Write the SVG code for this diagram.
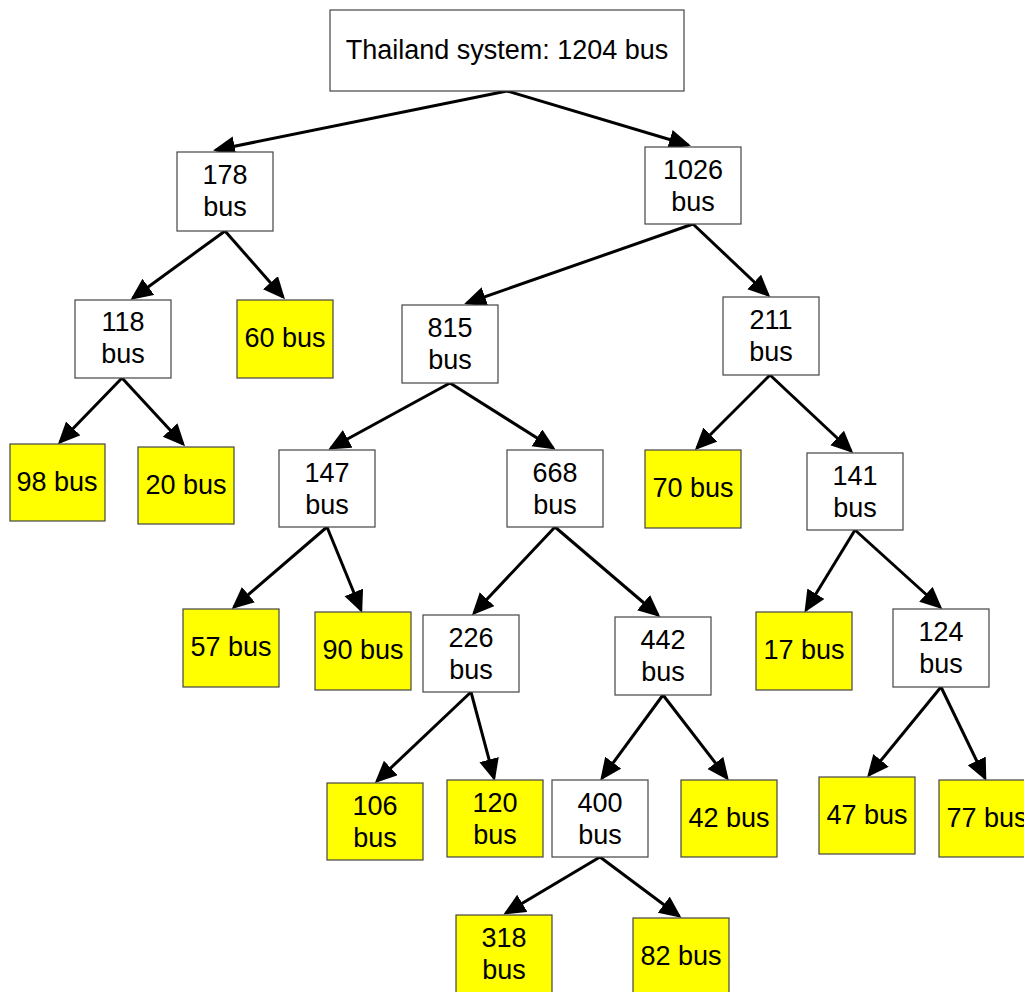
<svg xmlns="http://www.w3.org/2000/svg" width="1024" height="992" viewBox="0 0 1024 992">
  <style>
    .box { fill: #ffffff; stroke: #444444; stroke-width: 1.2; }
    .leaf { fill: #ffff00; stroke: #444444; stroke-width: 1.2; }
    .lbl { font-family: "Liberation Sans", Arial, sans-serif; font-size: 27px; fill: #000000; text-anchor: middle; }
    .edge { stroke: #000000; stroke-width: 3; fill: none; marker-end: url(#head); }
  </style>
  <defs>
    <marker id="head" markerUnits="userSpaceOnUse" markerWidth="24" markerHeight="22" refX="19" refY="10" orient="auto">
      <path d="M0,0 L22,10 L0,20 z" fill="#000000"/>
    </marker>
  </defs>
  <rect width="1024" height="992" fill="#ffffff"/>

  <g id="connectors">
    <line class="edge" x1="507" y1="91" x2="216" y2="150"/>
    <line class="edge" x1="507" y1="91" x2="688" y2="145"/>
    <line class="edge" x1="225" y1="231" x2="133" y2="298"/>
    <line class="edge" x1="225" y1="231" x2="283" y2="297"/>
    <line class="edge" x1="122" y1="378" x2="60" y2="442"/>
    <line class="edge" x1="122" y1="378" x2="183" y2="444"/>
    <line class="edge" x1="693" y1="224" x2="467" y2="303"/>
    <line class="edge" x1="693" y1="224" x2="768" y2="295"/>
    <line class="edge" x1="450" y1="383" x2="331" y2="448"/>
    <line class="edge" x1="450" y1="383" x2="553" y2="448"/>
    <line class="edge" x1="770" y1="375" x2="697" y2="448"/>
    <line class="edge" x1="770" y1="375" x2="851" y2="451"/>
    <line class="edge" x1="327" y1="527" x2="234" y2="607"/>
    <line class="edge" x1="327" y1="527" x2="361" y2="610"/>
    <line class="edge" x1="555" y1="527" x2="474" y2="613"/>
    <line class="edge" x1="555" y1="527" x2="658" y2="615"/>
    <line class="edge" x1="855" y1="530" x2="806" y2="610"/>
    <line class="edge" x1="855" y1="530" x2="940" y2="607"/>
    <line class="edge" x1="471" y1="692" x2="377" y2="781"/>
    <line class="edge" x1="471" y1="692" x2="494" y2="778"/>
    <line class="edge" x1="663" y1="695" x2="602" y2="778"/>
    <line class="edge" x1="663" y1="695" x2="727" y2="778"/>
    <line class="edge" x1="941" y1="687" x2="869" y2="775"/>
    <line class="edge" x1="941" y1="687" x2="985" y2="778"/>
    <line class="edge" x1="600" y1="857" x2="506" y2="913"/>
    <line class="edge" x1="600" y1="857" x2="679" y2="916"/>
  </g>

  <g id="n-root">
    <rect class="box" x="330" y="10" width="354" height="81"/>
    <text class="lbl" x="507" y="59">Thailand system: 1204 bus</text>
  </g>
  <g id="n-178">
    <rect class="box" x="177" y="152" width="96" height="79"/>
    <text class="lbl" x="225" y="184">178</text>
    <text class="lbl" x="225" y="216">bus</text>
  </g>
  <g id="n-1026">
    <rect class="box" x="645" y="147" width="96" height="77"/>
    <text class="lbl" x="693" y="179">1026</text>
    <text class="lbl" x="693" y="211">bus</text>
  </g>
  <g id="n-118">
    <rect class="box" x="75" y="300" width="96" height="78"/>
    <text class="lbl" x="123" y="331">118</text>
    <text class="lbl" x="123" y="363">bus</text>
  </g>
  <g id="n-60">
    <rect class="leaf" x="237" y="300" width="96" height="78"/>
    <text class="lbl" x="285" y="347">60 bus</text>
  </g>
  <g id="n-815">
    <rect class="box" x="402" y="305" width="96" height="78"/>
    <text class="lbl" x="450" y="337">815</text>
    <text class="lbl" x="450" y="369">bus</text>
  </g>
  <g id="n-211">
    <rect class="box" x="723" y="297" width="96" height="78"/>
    <text class="lbl" x="771" y="329">211</text>
    <text class="lbl" x="771" y="361">bus</text>
  </g>
  <g id="n-98">
    <rect class="leaf" x="10" y="444" width="95" height="77"/>
    <text class="lbl" x="57" y="491">98 bus</text>
  </g>
  <g id="n-20">
    <rect class="leaf" x="138" y="447" width="96" height="77"/>
    <text class="lbl" x="186" y="494">20 bus</text>
  </g>
  <g id="n-147">
    <rect class="box" x="279" y="450" width="96" height="77"/>
    <text class="lbl" x="327" y="482">147</text>
    <text class="lbl" x="327" y="514">bus</text>
  </g>
  <g id="n-668">
    <rect class="box" x="507" y="450" width="96" height="77"/>
    <text class="lbl" x="555" y="482">668</text>
    <text class="lbl" x="555" y="514">bus</text>
  </g>
  <g id="n-70">
    <rect class="leaf" x="645" y="450" width="96" height="78"/>
    <text class="lbl" x="693" y="497">70 bus</text>
  </g>
  <g id="n-141">
    <rect class="box" x="807" y="453" width="96" height="77"/>
    <text class="lbl" x="855" y="485">141</text>
    <text class="lbl" x="855" y="517">bus</text>
  </g>
  <g id="n-57">
    <rect class="leaf" x="183" y="609" width="96" height="78"/>
    <text class="lbl" x="231" y="656">57 bus</text>
  </g>
  <g id="n-90">
    <rect class="leaf" x="315" y="612" width="96" height="78"/>
    <text class="lbl" x="363" y="659">90 bus</text>
  </g>
  <g id="n-226">
    <rect class="box" x="423" y="615" width="96" height="77"/>
    <text class="lbl" x="471" y="647">226</text>
    <text class="lbl" x="471" y="679">bus</text>
  </g>
  <g id="n-442">
    <rect class="box" x="615" y="617" width="96" height="78"/>
    <text class="lbl" x="663" y="649">442</text>
    <text class="lbl" x="663" y="681">bus</text>
  </g>
  <g id="n-17">
    <rect class="leaf" x="756" y="612" width="96" height="78"/>
    <text class="lbl" x="804" y="659">17 bus</text>
  </g>
  <g id="n-124">
    <rect class="box" x="893" y="609" width="96" height="78"/>
    <text class="lbl" x="941" y="641">124</text>
    <text class="lbl" x="941" y="673">bus</text>
  </g>
  <g id="n-106">
    <rect class="leaf" x="327" y="783" width="96" height="77"/>
    <text class="lbl" x="375" y="815">106</text>
    <text class="lbl" x="375" y="847">bus</text>
  </g>
  <g id="n-120">
    <rect class="leaf" x="447" y="780" width="96" height="77"/>
    <text class="lbl" x="495" y="812">120</text>
    <text class="lbl" x="495" y="844">bus</text>
  </g>
  <g id="n-400">
    <rect class="box" x="552" y="780" width="96" height="77"/>
    <text class="lbl" x="600" y="812">400</text>
    <text class="lbl" x="600" y="844">bus</text>
  </g>
  <g id="n-42">
    <rect class="leaf" x="681" y="780" width="96" height="77"/>
    <text class="lbl" x="729" y="827">42 bus</text>
  </g>
  <g id="n-47">
    <rect class="leaf" x="819" y="777" width="96" height="77"/>
    <text class="lbl" x="867" y="824">47 bus</text>
  </g>
  <g id="n-77">
    <rect class="leaf" x="939" y="780" width="96" height="77"/>
    <text class="lbl" x="987" y="827">77 bus</text>
  </g>
  <g id="n-318">
    <rect class="leaf" x="456" y="915" width="96" height="80"/>
    <text class="lbl" x="504" y="947">318</text>
    <text class="lbl" x="504" y="979">bus</text>
  </g>
  <g id="n-82">
    <rect class="leaf" x="633" y="918" width="96" height="80"/>
    <text class="lbl" x="681" y="965">82 bus</text>
  </g>
</svg>
